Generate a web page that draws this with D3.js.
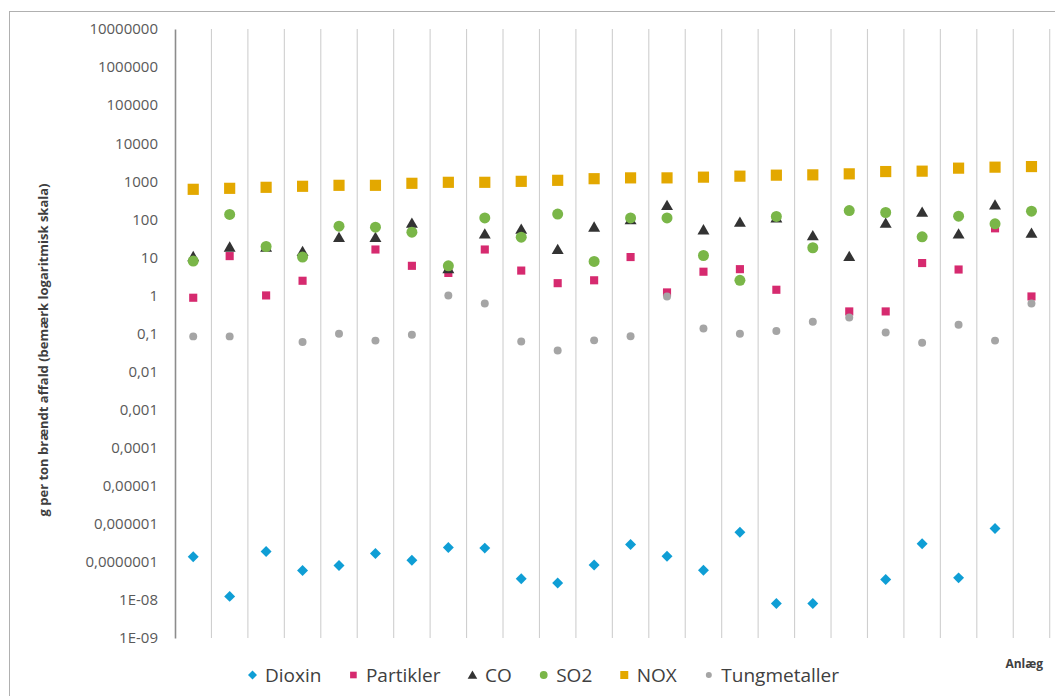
<!DOCTYPE html>
<html><head><meta charset="utf-8">
<script src="https://cdn.jsdelivr.net/npm/d3@7"></script>
<style>
html,body{margin:0;padding:0;background:#fff;}
svg{display:block;}
</style></head>
<body>
<svg id="chart" width="1055" height="696"></svg>
<script>
// ---- data ----
const categories = d3.range(1, 25).map(String); // Anlæg 1..24
const dioxin = [1.36e-7, 1.24e-8, 1.87e-7, 5.9e-8, 8.0e-8, 1.66e-7, 1.11e-7, 2.4e-7, 2.3e-7, 3.6e-8, 2.8e-8, 8.3e-8,
                2.86e-7, 1.41e-7, 6.0e-8, 6.0e-7, 8.1e-9, 8.1e-9, null, 3.45e-8, 3.0e-7, 3.8e-8, 7.5e-7, null];
const partikler = [0.87, 10.8, 1.0, 2.43, null, 16.1, 6.0, 3.9, 16.1, 4.5, 2.1, 2.5,
                   10.2, 1.2, 4.2, 4.9, 1.41, null, 0.38, 0.38, 7.1, 4.8, 58, 0.94];
const co = [10.7, 19, 19, 14.6, 34, 34, 81, 5.2, 42, 56, 16.5, 64,
            100, 236, 54, 86, 112, 38, 10.8, 81, 157, 42, 244, 44];
const so2 = [8.0, 134, 19.3, 10.2, 66, 62, 46, 6.0, 109, 34, 137, 7.8,
             109, 109, 11.2, 2.5, 119, 17.9, 170, 151, 34.7, 121, 76, 164];
const nox = [614, 652, 693, 737, 782, 782, 883, 938, 938, 995, 1058, 1167,
             1227, 1227, 1282, 1361, 1445, 1472, 1565, 1798, 1841, 2208, 2345, 2432];
const tungmetaller = [0.084, 0.084, null, 0.060, 0.099, 0.065, 0.093, 1.0, 0.61, 0.062, 0.036, 0.066,
                      0.085, 0.94, 0.136, 0.098, 0.116, 0.204, 0.265, 0.106, 0.057, 0.17, 0.065, 0.61];
const tickValues = [1e-9, 1e-8, 1e-7, 1e-6, 1e-5, 1e-4, 1e-3, 1e-2, 0.1, 1, 10, 100, 1000, 1e4, 1e5, 1e6, 1e7];
const tickLabels = ["1E-09", "1E-08", "0,0000001", "0,000001", "0,00001", "0,0001", "0,001", "0,01", "0,1",
                    "1", "10", "100", "1000", "10000", "100000", "1000000", "10000000"];
const seriesNames = ["Dioxin", "Partikler", "CO", "SO2", "NOX", "Tungmetaller"];
const yTitle = "g per ton brændt affald (bemærk logaritmisk skala)";
const xTitle = "Anlæg";

// ---- styles ----
const seriesStyle = {
  Dioxin:       {color: "#0f9ed5", sym: d3.symbolSquare, rot: 45, size: 60, lsize: 40},
  Partikler:    {color: "#d62a6f", sym: d3.symbolSquare,  rot: 0, size: 66, lsize: 44},
  CO:           {color: "#333333", sym: d3.symbolTriangle, rot: 0, size: 62, lsize: 40},
  SO2:          {color: "#7ab648", sym: d3.symbolCircle,  rot: 0, size: 95, lsize: 48},
  NOX:          {color: "#e3a800", sym: d3.symbolSquare,  rot: 0, size: 125, lsize: 64},
  Tungmetaller: {color: "#a5a5a5", sym: d3.symbolCircle,  rot: 0, size: 50, lsize: 28}
};
const seriesData = {Dioxin: dioxin, Partikler: partikler, CO: co, SO2: so2, NOX: nox, Tungmetaller: tungmetaller};

const svg = d3.select("#chart");
const font = "'Open Sans', 'DejaVu Sans', sans-serif";

// outer frame (extends off page right/bottom)
svg.append("rect").attr("x", 9.5).attr("y", 11.5).attr("width", 1100).attr("height", 800)
  .attr("fill", "none").attr("stroke", "#b0b0b0").attr("stroke-width", 1);

const pLeft = 175, pRight = 1049.7, pTop = 29, pBottom = 638;
const x = d3.scaleBand().domain(categories).range([pLeft, pRight]).padding(0);
const y = d3.scaleLog().domain([1e-9, 1e7]).range([pBottom, pTop]);

// vertical gridlines at band boundaries
const bounds = categories.map(c => x(c)).concat([pRight]);
svg.append("g").selectAll("line").data(bounds.slice(1)).join("line")
  .attr("x1", d => d).attr("x2", d => d).attr("y1", pTop).attr("y2", pBottom)
  .attr("stroke", "#cfcfcf").attr("stroke-width", 1.1);

// y axis
const yAxis = d3.axisLeft(y).tickValues(tickValues)
  .tickFormat((d, i) => tickLabels[i]).tickSize(0).tickPadding(17);
const gy = svg.append("g").attr("transform", `translate(${pLeft},0)`).call(yAxis);
gy.select(".domain").attr("stroke", "#8c8c8c").attr("stroke-width", 1.6);
gy.selectAll("text").attr("font-family", font).attr("font-size", 15).attr("fill", "#595959");

// y title
svg.append("text").attr("transform", "translate(48,350) rotate(-90)")
  .attr("text-anchor", "middle").attr("font-family", font).attr("font-weight", "bold")
  .attr("font-size", 13).attr("fill", "#404040").text(yTitle);

// x title
svg.append("text").attr("x", 1043).attr("y", 668).attr("text-anchor", "end")
  .attr("font-family", font).attr("font-weight", "bold").attr("font-size", 12)
  .attr("fill", "#404040").text(xTitle);

// markers
seriesNames.forEach(name => {
  const st = seriesStyle[name];
  const sym = d3.symbol().type(st.sym).size(st.size);
  const pts = seriesData[name].map((v, i) => ({v, c: categories[i]})).filter(d => d.v != null);
  svg.append("g").selectAll("path").data(pts).join("path")
    .attr("transform", d => {
      let cy = y(d.v);
      if (name === "CO") cy += 1.5;
      return `translate(${x(d.c) + x.bandwidth() / 2},${cy}) rotate(${st.rot})`;
    })
    .attr("d", sym).attr("fill", st.color);
});

// legend
const lg = svg.append("g");
let lx = 246;
const ly = 675;
seriesNames.forEach(name => {
  const st = seriesStyle[name];
  lg.append("path").attr("transform", `translate(${lx + 6.5},${ly + (name === "CO" ? 1 : 0)}) rotate(${st.rot})`)
    .attr("d", d3.symbol().type(st.sym).size(st.lsize)).attr("fill", st.color);
  const t = lg.append("text").attr("x", lx + 19).attr("y", ly + 7)
    .attr("font-family", font).attr("font-size", 19).attr("fill", "#404040").text(name);
  const w = t.node().getComputedTextLength();
  lx += 19 + w + 25.5;
});
</script>
</body></html>
